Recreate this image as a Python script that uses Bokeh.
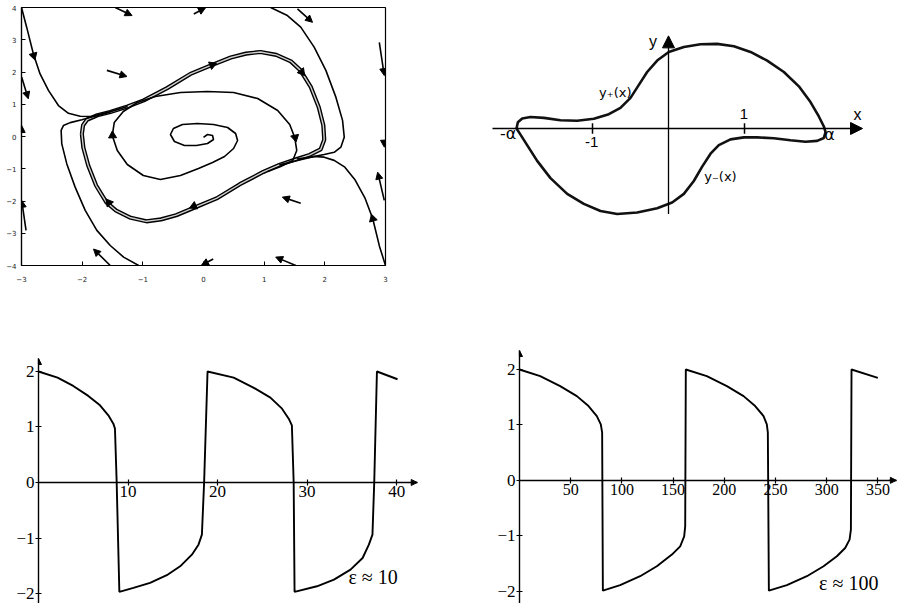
import math
from bokeh.plotting import figure
from bokeh.layouts import column, row
from bokeh.models import Arrow, NormalHead, ColumnDataSource, FixedTicker
from bokeh.core.properties import value
from bokeh.embed import file_html
from bokeh.resources import INLINE

# ---------------- Panel 1: phase portrait ----------------
p1_x_ticks = [-3, -2, -1, 0, 1, 2, 3]
p1_y_ticks = [-4, -3, -2, -1, 0, 1, 2, 3, 4]

cycle_x = [-2.005, -1.985, -1.92, -1.75, -1.537, -1.25, -0.985, -0.6, -0.215, 0.144, 0.45, 0.70, 0.94,
           1.2, 1.44, 1.60, 1.77, 1.90, 1.975, 1.99, 1.93, 1.75, 1.537, 1.25, 0.985, 0.6, 0.215,
           -0.144, -0.45, -0.70, -0.94, -1.2, -1.44, -1.60, -1.77, -1.90, -1.98, -2.005]
cycle_y = [0.08, 0.35, 0.52, 0.66, 0.76, 0.93, 1.12, 1.50, 1.94, 2.22, 2.45, 2.57, 2.62,
           2.53, 2.33, 2.05, 1.53, 0.91, 0.35, -0.10, -0.40, -0.57, -0.70, -0.88, -1.10, -1.48, -1.92,
           -2.20, -2.44, -2.57, -2.63, -2.52, -2.30, -2.04, -1.52, -0.90, -0.35, 0.08]

traj_a_x = [-3.0, -2.915, -2.804, -2.694, -2.556, -2.391, -2.226, -2.033, -1.84, -1.592, -1.25]
traj_a_y = [4.0, 3.39, 2.56, 1.94, 1.43, 0.96, 0.72, 0.63, 0.62, 0.74, 0.93]

traj_b_x = [-1.069, -1.317, -1.537, -1.758, -1.95, -2.116, -2.253, -2.336, -2.347, -2.309, -2.198,
            -2.005, -1.813, -1.537]
traj_b_y = [-4.0, -3.74, -3.38, -2.91, -2.29, -1.57, -0.85, -0.23, 0.19, 0.34, 0.43, 0.52, 0.62, 0.76]

traj_c_x = [3.0, 2.90, 2.79, 2.66, 2.50, 2.33, 2.154, 1.989, 1.824, 1.603, 1.25]
traj_c_y = [-4.0, -3.40, -2.55, -1.90, -1.35, -0.95, -0.74, -0.64, -0.62, -0.72, -0.88]

traj_d_x = [1.107, 1.383, 1.603, 1.824, 2.017, 2.182, 2.292, 2.32, 2.264, 2.154, 1.989, 1.769, 1.537]
traj_d_y = [4.0, 3.75, 3.39, 2.77, 2.05, 1.22, 0.50, -0.02, -0.33, -0.49, -0.56, -0.64, -0.70]

spiral_x = [0.0, 0.066, 0.149, 0.165, 0.066, -0.116, -0.314, -0.479, -0.545, -0.496, -0.347, -0.099,
            0.165, 0.397, 0.529, 0.562, 0.496, 0.347, 0.149, -0.083, -0.380, -0.711, -0.992, -1.256,
            -1.421, -1.504, -1.471, -1.322, -1.091, -0.793, -0.380, 0.066, 0.496, 0.893, 1.223, 1.421,
            1.504, 1.537, 1.471, 1.273, 1.058]
spiral_y = [-0.03, 0.062, 0.031, -0.093, -0.217, -0.279, -0.279, -0.155, 0.062, 0.248, 0.372, 0.403,
            0.372, 0.279, 0.093, -0.124, -0.372, -0.620, -0.806, -0.992, -1.209, -1.333, -1.209, -0.868,
            -0.434, 0.031, 0.434, 0.775, 1.054, 1.240, 1.364, 1.395, 1.364, 1.178, 0.806, 0.372,
            -0.031, -0.434, -0.744, -0.930, -1.085]

field_x0 = [-1.455, -0.16, 1.549, -1.592, -2.997, 2.898, 2.975, 2.98, 1.603, 1.521, 0.16, -1.537, -2.925, -2.997]
field_y0 = [4.0, 3.80, 3.96, 2.05, 1.84, 2.92, -0.12, -1.98, -2.07, -4.0, -3.80, -4.0, -2.91, 0.13]
field_x1 = [-1.178, 0.033, 1.797, -1.261, -2.888, 2.98, 2.98, 2.871, 1.30, 1.19, -0.033, -1.813, -2.997, -2.997]
field_y1 = [3.75, 3.99, 3.54, 1.86, 1.17, 1.89, -0.33, -1.106, -1.88, -3.74, -3.99, -3.49, -1.98, 0.34]

head_x = [-2.80, 2.79, 0.144, 1.62, -0.16, -1.56, -1.50, 1.51]
head_y = [2.51, -2.55, 2.22, 2.0, -2.16, -2.05, 0.03, -0.03]
head_dir = [-74, 106, 22, -52, -157, 128, 92, -78]   # screen heading, degrees

# ---------------- Panel 2: sketch of the closed curve ----------------
closed_x = [-2.0, -1.982, -1.925, -1.816, -1.640, -1.421, -1.202, -0.982, -0.785, -0.632, -0.5, -0.390,
            -0.281, -0.149, 0.004, 0.202, 0.421, 0.640, 0.860, 1.079, 1.298, 1.518, 1.715, 1.868, 1.978,
            2.044, 2.066, 2.044, 1.956, 1.803, 1.605, 1.386, 1.167, 0.991, 0.816, 0.662, 0.553, 0.443,
            0.333, 0.202, 0.048, -0.149, -0.412, -0.675, -0.895, -1.114, -1.333, -1.553, -1.728, -1.860,
            -1.956, -2.0]
closed_y = [0.0, 0.096, 0.154, 0.175, 0.162, 0.127, 0.118, 0.149, 0.219, 0.316, 0.469, 0.667,
            0.864, 1.039, 1.171, 1.246, 1.289, 1.294, 1.259, 1.171, 1.039, 0.864, 0.645, 0.404, 0.184,
            0.031, -0.057, -0.145, -0.189, -0.202, -0.180, -0.149, -0.136, -0.136, -0.167, -0.254, -0.386, -0.583,
            -0.803, -1.0, -1.132, -1.219, -1.285, -1.307, -1.263, -1.154, -1.0, -0.759, -0.496, -0.254,
            -0.079, 0.0]
p2_axis_x_span = [-2.316, 2.553]
p2_axis_y_span = [-1.309, 1.417]
p2_tick_pos = [-1, 1]
p2_tick_half = 0.08
p2_letter_x, p2_letter_y, p2_letter_text = [-0.204, 2.487], [1.325, 0.22], ["y", "x"]
p2_num_x, p2_num_y, p2_num_text = [0.993, -1.01], [0.22, -0.214], ["1", "-1"]
p2_a_x, p2_a_y, p2_a_text = [-2.11, 2.12], [-0.07, -0.09], ["-α", "α"]
p2_fn_x, p2_fn_y, p2_fn_text = [-0.70, 0.684], [0.555, -0.734], ["y₊(x)", "y₋(x)"]

# ---------------- Panel 3: eps ~ 10 ----------------
p3_t = [0, 2.13, 3.88, 5.56, 6.87, 7.8, 8.36, 8.54, 8.73, 9.03, 10.6, 12.46, 14.33, 15.82, 17.13, 17.87,
        18.25, 18.5, 18.88, 21.8, 24.0, 25.9, 27.2, 27.95, 28.3, 28.5, 28.6, 31.1, 33.0, 34.85, 36.2, 36.9,
        37.3, 37.5, 37.8, 40.1]
p3_y = [2.0, 1.89, 1.74, 1.56, 1.39, 1.21, 1.06, 0.97, 0.01, -1.97, -1.90, -1.81, -1.67, -1.51, -1.30, -1.12,
        -0.94, 0.01, 2.0, 1.89, 1.71, 1.53, 1.33, 1.15, 1.03, 0.01, -1.97, -1.87, -1.75, -1.57, -1.36, -1.12,
        -0.94, 0.01, 2.0, 1.86]
p3_x_ticks = [10, 20, 30, 40]
p3_y_ticks = [-2, -1, 0, 1, 2]
p3_label = ["ε ≈ 10"]
p3_label_x, p3_label_y = [37.37], [-1.694]

# ---------------- Panel 4: eps ~ 100 ----------------
p4_t = [0, 20.2, 39.7, 56, 67.4, 75.5, 79.4, 80.7, 81.4, 98.3, 117.8, 134.1, 148.8, 156.9, 160.8, 161.8,
        162.4, 182.9, 202.5, 218.8, 230.1, 238.3, 241.5, 242.5, 243.5, 261.1, 280.6, 296.9, 309.9, 318,
        322.3, 323.6, 324.2, 349.9]
p4_y = [2.0, 1.88, 1.70, 1.52, 1.34, 1.16, 1.01, 0.86, -1.99, -1.89, -1.73, -1.55, -1.34, -1.19, -1.01, -0.83,
        2.0, 1.88, 1.70, 1.52, 1.34, 1.16, 1.01, 0.86, -1.99, -1.89, -1.73, -1.55, -1.37, -1.22, -1.07, -0.89,
        2.0, 1.85]
p4_x_ticks = [50, 100, 150, 200, 250, 300, 350]
p4_y_ticks = [-2, -1, 0, 1, 2]
p4_label = ["ε ≈ 100"]
p4_label_x, p4_label_y = [321.5], [-1.856]

minus_labels = {-1: "−1", -2: "−2"}

def base_fig(**kw):
    p = figure(output_backend="svg", toolbar_location=None, **kw)
    p.grid.visible = False
    p.background_fill_color = "white"
    p.border_fill_color = "white"
    return p

# ---- p1 ----
p1 = base_fig(width=478, height=300, x_range=(-3, 3), y_range=(-4, 4),
              min_border_left=21, min_border_right=93, min_border_top=7, min_border_bottom=35)
p1.outline_line_color = "black"
p1.outline_line_width = 1.2
for ax, ticks, so in ((p1.xaxis, p1_x_ticks, 10), (p1.yaxis, p1_y_ticks, 5)):
    ax.ticker = FixedTicker(ticks=ticks)
    ax.major_tick_in = 4
    ax.major_tick_out = 0
    ax.minor_tick_in = 0
    ax.minor_tick_out = 0
    ax.axis_line_color = "black"
    ax.axis_line_width = 1.2
    ax.major_label_text_font = "DejaVu Sans"
    ax.major_label_text_font_size = "7px"
    ax.major_label_text_color = "#222222"
    ax.major_label_standoff = so

p1.line(cycle_x, cycle_y, line_color="black", line_width=4.2)
p1.line(cycle_x, cycle_y, line_color="#cfcfcf", line_width=1.4)
for tx, ty in ((traj_a_x, traj_a_y), (traj_b_x, traj_b_y), (traj_c_x, traj_c_y), (traj_d_x, traj_d_y),
               (spiral_x, spiral_y)):
    p1.line(tx, ty, line_color="black", line_width=1.6)

fsrc = ColumnDataSource(dict(x0=field_x0, y0=field_y0, x1=field_x1, y1=field_y1))
p1.add_layout(Arrow(end=NormalHead(size=7, fill_color="black", line_color="black"),
                    x_start="x0", y_start="y0", x_end="x1", y_end="y1", source=fsrc,
                    line_color="black", line_width=1.6))
head_angle = [math.radians(d - 90) for d in head_dir]
p1.scatter(head_x, head_y, marker="triangle", size=8, angle=head_angle,
           fill_color="black", line_color="black")

# ---- p2 ----
p2 = base_fig(width=419, height=300, x_range=(-2.5, 3.013), y_range=(-2.096, 1.851),
              x_axis_type=None, y_axis_type=None, min_border=0)
p2.outline_line_color = None
p2.add_layout(Arrow(end=NormalHead(size=12, fill_color="black", line_color="black"),
                    x_start=p2_axis_x_span[0], y_start=0, x_end=p2_axis_x_span[1], y_end=0,
                    line_color="black", line_width=1.3))
p2.add_layout(Arrow(end=NormalHead(size=12, fill_color="black", line_color="black"),
                    x_start=0, y_start=p2_axis_y_span[0], x_end=0, y_end=p2_axis_y_span[1],
                    line_color="black", line_width=1.3))
p2.segment(x0=p2_tick_pos, y0=[-p2_tick_half] * len(p2_tick_pos), x1=p2_tick_pos,
           y1=[p2_tick_half] * len(p2_tick_pos), line_color="black", line_width=1.5)
p2.line(closed_x, closed_y, line_color="#111111", line_width=2.6)
sans = value("Liberation Sans")
p2.text(p2_letter_x, p2_letter_y, text=p2_letter_text, text_font=sans, text_font_size="16px",
        text_align="center", text_baseline="middle")
p2.text(p2_num_x, p2_num_y, text=p2_num_text, text_font=sans, text_font_size="15px",
        text_align="center", text_baseline="middle")
p2.text(p2_a_x, p2_a_y, text=p2_a_text, text_font=value("DejaVu Sans"), text_font_size="16px",
        text_align="center", text_baseline="middle")
p2.text(p2_fn_x, p2_fn_y, text=p2_fn_text, text_font=value("DejaVu Sans"), text_font_size="13px",
        text_align="center", text_baseline="middle")

# ---- p3 / p4 ----
def wave_fig(width, left, xr, yr, x_bound, y_bound, xticks, yticks, xfs, yfs):
    p = base_fig(width=width, height=303, x_range=xr, y_range=yr, min_border_left=left,
                 min_border_right=0, min_border_top=0, min_border_bottom=0)
    p.outline_line_color = None
    xa, ya = p.xaxis[0], p.yaxis[0]
    xa.fixed_location = 0
    xa.bounds = x_bound
    ya.bounds = y_bound
    xa.ticker = FixedTicker(ticks=xticks)
    ya.ticker = FixedTicker(ticks=yticks)
    ya.major_label_overrides = minus_labels
    for ax, fs in ((xa, xfs), (ya, yfs)):
        ax.major_tick_in = 3
        ax.major_tick_out = 3
        ax.minor_tick_in = 0
        ax.minor_tick_out = 0
        ax.axis_line_color = "black"
        ax.axis_line_width = 1.4
        ax.major_tick_line_width = 1.2
        ax.major_label_text_font = "Liberation Serif"
        ax.major_label_text_font_size = fs
        ax.major_label_text_color = "black"
        ax.major_label_standoff = 1
    p.add_layout(Arrow(end=NormalHead(size=6, fill_color="black", line_color="black"),
                       x_start=x_bound[1] - (xr[1] - xr[0]) * 0.02, y_start=0,
                       x_end=x_bound[1], y_end=0, line_color="black", line_width=1.2))
    p.add_layout(Arrow(end=NormalHead(size=6, fill_color="black", line_color="black"),
                       x_start=0, y_start=y_bound[1] - 0.1, x_end=0, y_end=y_bound[1],
                       line_color="black", line_width=1.2))
    return p

p3 = wave_fig(440, 38, (0, 44.9), (-2.18, 3.279), (0, 42.3), (-2.18, 2.234),
              p3_x_ticks, p3_y_ticks, "17px", "17px")
p3.line(p3_t, p3_y, line_color="black", line_width=1.9)
p3.text(p3_label_x, p3_label_y, text=p3_label, text_font=value("Liberation Serif"),
        text_font_size="20px", text_align="center", text_baseline="middle")

p4 = wave_fig(457, 79, (0, 369.1), (-2.222, 3.245), (0, 368), (-2.222, 2.343),
              p4_x_ticks, p4_y_ticks, "16px", "17px")
p4.line(p4_t, p4_y, line_color="black", line_width=1.9)
p4.text(p4_label_x, p4_label_y, text=p4_label, text_font=value("Liberation Serif"),
        text_font_size="20px", text_align="center", text_baseline="middle")

layout = column(row(p1, p2), row(p3, p4))
open("out.html", "w").write(file_html(layout, INLINE))
